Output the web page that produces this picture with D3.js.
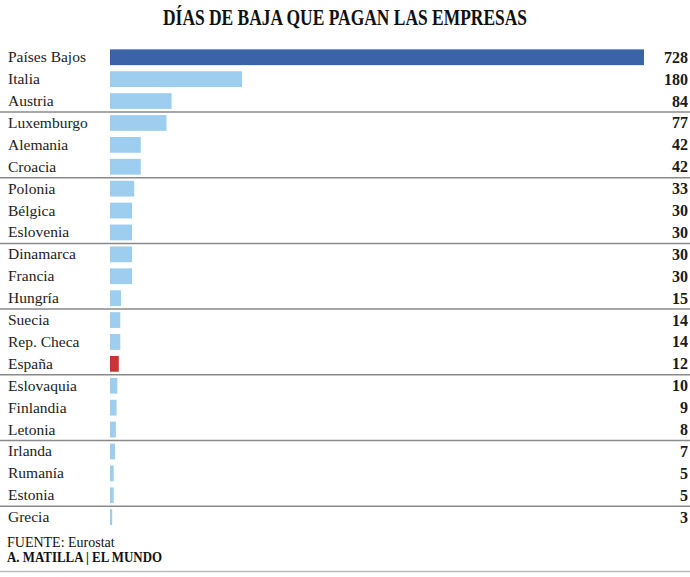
<!DOCTYPE html>
<html>
<head>
<meta charset="utf-8">
<script src="https://cdn.jsdelivr.net/npm/d3@7"></script>
<style>
  body { margin: 0; background: #fff; }
  text { font-family: "Liberation Serif", serif; }
</style>
</head>
<body>
<div id="chart"></div>
<script>
// data
var countries = ["Países Bajos", "Italia", "Austria", "Luxemburgo", "Alemania", "Croacia",
                 "Polonia", "Bélgica", "Eslovenia", "Dinamarca", "Francia", "Hungría",
                 "Suecia", "Rep. Checa", "España", "Eslovaquia", "Finlandia", "Letonia",
                 "Irlanda", "Rumanía", "Estonia", "Grecia"];
var days = [728, 180, 84, 77, 42, 42, 33, 30, 30, 30, 30, 15, 14, 14, 12, 10, 9, 8, 7, 5, 5, 3];

var width = 690,
    height = 577;

var svg = d3.select("#chart")
  .append("svg")
  .attr("width", width)
  .attr("height", height);

var data = countries.map(function(c, i) { return { name: c, value: days[i] }; });

var x = d3.scaleLinear()
  .domain([0, d3.max(days)])
  .range([110, 644]);

var y = d3.scaleBand()
  .domain(countries)
  .range([46.3, 46.3 + 22 * 21.9])
  .paddingInner(0.28)
  .paddingOuter(0.14);

function barColor(d, i) {
  if (d.name == "España") return "#cc3333";
  if (i == 0) return "#3a63a8";
  return "#9dcdef";
}

// title
svg.append("text")
  .attr("x", 345)
  .attr("y", 25)
  .attr("text-anchor", "middle")
  .attr("textLength", 364)
  .attr("lengthAdjust", "spacingAndGlyphs")
  .attr("font-size", "24px")
  .attr("font-weight", "bold")
  .attr("fill", "#111")
  .text("DÍAS DE BAJA QUE PAGAN LAS EMPRESAS");

// group separators every three rows
var seps = d3.range(3, countries.length, 3);
svg.append("g")
  .selectAll("line")
  .data(seps)
  .enter()
  .append("line")
  .attr("x1", 0)
  .attr("x2", width)
  .attr("y1", function(i) { return y(countries[i]) - y.step() * y.paddingInner() / 2; })
  .attr("y2", function(i) { return y(countries[i]) - y.step() * y.paddingInner() / 2; })
  .attr("stroke", "#8a8a8a")
  .attr("stroke-width", 1.5);

// bars
svg.append("g")
  .selectAll("rect")
  .data(data)
  .enter()
  .append("rect")
  .attr("x", x(0))
  .attr("y", function(d) { return y(d.name); })
  .attr("width", function(d) { return x(d.value) - x(0); })
  .attr("height", y.bandwidth())
  .attr("fill", barColor);

// country labels
svg.append("g")
  .selectAll("text")
  .data(data)
  .enter()
  .append("text")
  .attr("x", 8)
  .attr("y", function(d) { return y(d.name) + y.bandwidth() / 2 + 5; })
  .attr("font-size", "15.5px")
  .attr("fill", "#222")
  .text(function(d) { return d.name; });

// values
svg.append("g")
  .selectAll("text")
  .data(data)
  .enter()
  .append("text")
  .attr("x", 688)
  .attr("y", function(d) { return y(d.name) + y.bandwidth() / 2 + 5.5; })
  .attr("text-anchor", "end")
  .attr("font-size", "16px")
  .attr("font-weight", "bold")
  .attr("fill", "#1a1a1a")
  .text(function(d) { return d.value; });

// footer
svg.append("text")
  .attr("x", 7)
  .attr("y", 547)
  .attr("font-size", "14px")
  .attr("fill", "#111")
  .text("FUENTE: Eurostat");

svg.append("text")
  .attr("x", 7)
  .attr("y", 562)
  .attr("textLength", 155)
  .attr("lengthAdjust", "spacingAndGlyphs")
  .attr("font-size", "14px")
  .attr("font-weight", "bold")
  .attr("fill", "#111")
  .text("A. MATILLA | EL MUNDO");

svg.append("line")
  .attr("x1", 0)
  .attr("x2", width)
  .attr("y1", 571.5)
  .attr("y2", 571.5)
  .attr("stroke", "#bbb")
  .attr("stroke-width", 1.5);
</script>
</body>
</html>
